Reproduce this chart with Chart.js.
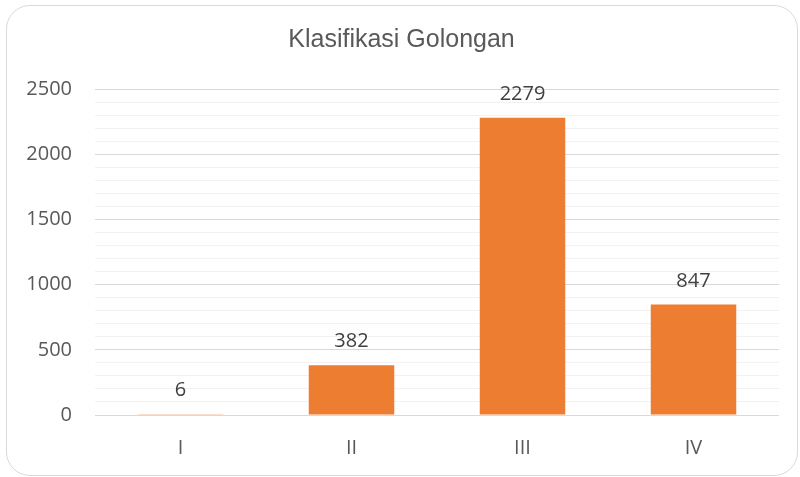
<!DOCTYPE html>
<html>
<head>
<meta charset="utf-8">
<script src="https://cdn.jsdelivr.net/npm/chart.js@4.4.0/dist/chart.umd.min.js"></script>
<style>
  html, body { margin: 0; padding: 0; background: #ffffff; }
  #wrap { position: relative; width: 800px; height: 477px; }
  #frame { position: absolute; left: 6px; top: 5px; width: 790px; height: 469px;
           border: 1px solid #d9d9d9; border-radius: 24px; pointer-events: none; }
  canvas { position: absolute; left: 0; top: 0; }
</style>
</head>
<body>
<div id="wrap">
  <canvas id="c" width="800" height="477"></canvas>
  <div id="frame"></div>
</div>
<script>
const chartTitle = 'Klasifikasi Golongan';
const categories = ['I', 'II', 'III', 'IV'];
const values = [6, 382, 2279, 847];
const yMin = 0;
const yMax = 2500;
const yMinorStep = 100;
const yMajorStep = 500;

const barLabels = {
  id: 'barLabels',
  afterDatasetsDraw(chart) {
    const ctx = chart.ctx;
    const meta = chart.getDatasetMeta(0);
    ctx.save();
    ctx.font = '20px "Open Sans"';
    ctx.fillStyle = '#404040';
    ctx.textAlign = 'center';
    ctx.textBaseline = 'alphabetic';
    meta.data.forEach((bar, i) => {
      ctx.fillText(String(values[i]), bar.x, bar.y - 18);
    });
    ctx.restore();
  }
};

new Chart(document.getElementById('c'), {
  type: 'bar',
  data: {
    labels: categories,
    datasets: [{
      data: values,
      backgroundColor: '#ED7D31',
      borderWidth: 0,
      barPercentage: 1,
      categoryPercentage: 0.5
    }]
  },
  options: {
    responsive: false,
    animation: false,
    devicePixelRatio: 1,
    layout: { padding: { left: 24, right: 21, top: 0, bottom: 0 } },
    plugins: {
      legend: { display: false },
      tooltip: { enabled: false },
      title: {
        display: true,
        text: chartTitle,
        color: '#595959',
        font: { family: '"Liberation Sans", Arial, sans-serif', size: 25, weight: 'normal', lineHeight: 1.2 },
        padding: { top: 25, bottom: 34 }
      }
    },
    scales: {
      x: {
        grid: { display: false, drawTicks: false },
        border: { display: false },
        ticks: {
          color: '#595959',
          font: { family: '"Open Sans"', size: 20 },
          padding: 21
        },
        afterFit(scale) { scale.height = 62; }
      },
      y: {
        min: yMin,
        max: yMax,
        grid: {
          drawTicks: false,
          color: (c) => (c.tick && c.tick.value % yMajorStep === 0) ? '#d9d9d9' : '#f2f2f2',
          lineWidth: 1
        },
        border: { display: false },
        ticks: {
          stepSize: yMinorStep,
          autoSkip: false,
          color: '#595959',
          font: { family: '"Open Sans"', size: 20 },
          padding: 23,
          callback: (v) => (v % yMajorStep === 0 ? String(v) : '')
        },
        afterFit(scale) { scale.width = 71; }
      }
    }
  },
  plugins: [barLabels]
});
</script>
</body>
</html>
